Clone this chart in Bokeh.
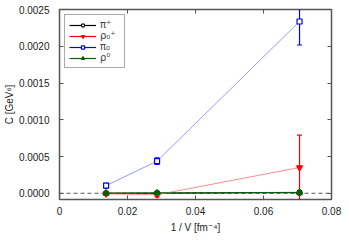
from bokeh.plotting import figure
from bokeh.models import (ColumnDataSource, Span, Legend, LegendItem, LinearAxis,
                          SingleIntervalTicker, NumeralTickFormatter, Range1d,
                          CustomLabelingPolicy)
from bokeh.embed import file_html
from bokeh.resources import INLINE

# ---- data ----
inv_v = [0.0137, 0.0287, 0.0706]
pi_plus = [0.0, 0.000002, 0.000008]
pi_plus_err = [0.000005, 0.000006, 0.00001]
rho0_plus = [-0.000008, -0.00002, 0.00035]
rho0_plus_err = [0.00002, 0.00003, 0.00044]
pi0 = [0.000104, 0.000437, 0.002337]
pi0_err = [0.00003, 0.000045, 0.00032]
rho0 = [0.000002, 0.000004, 0.000012]
rho0_err = [0.000005, 0.000008, 0.00001]

series = [
    # label, values, errors, marker, bar colour, line colour, fill
    ("π⁺", pi_plus, pi_plus_err, "circle", "#000000", "#000000", "white"),
    ("ρ₀⁺", rho0_plus, rho0_plus_err, "inverted_triangle", "#ff0000", "#ff8c8c", "#ff0000"),
    ("π₀", pi0, pi0_err, "square", "#0000ff", "#9a9aff", "white"),
    ("ρ⁰", rho0, rho0_err, "triangle", "#006400", "#006400", "#006400"),
]

FONT = "'Liberation Sans', 'DejaVu Sans'"
GRAY = "#555555"

p = figure(frame_width=272, frame_height=190, output_backend="svg", toolbar_location=None,
           x_range=Range1d(0, 0.08), y_range=Range1d(-0.000085, 0.0025),
           min_border_left=50, min_border_right=8, min_border_top=9, min_border_bottom=30)
p.xgrid.visible = False
p.ygrid.visible = False
p.outline_line_color = GRAY
p.outline_line_width = 1.5
p.background_fill_color = "white"

p.add_layout(Span(location=0, dimension="width", line_color=GRAY, line_width=1,
                  line_dash="4 3", level="underlay"))

items = []
for label, vals, errs, marker, bar_c, line_c, fill_c in series:
    lo = [v - e for v, e in zip(vals, errs)]
    hi = [v + e for v, e in zip(vals, errs)]
    src = ColumnDataSource(dict(x=inv_v, y=vals, lo=lo, hi=hi))
    p.line("x", "y", source=src, line_color=line_c, line_width=1)
    seg = p.segment(x0="x", y0="lo", x1="x", y1="hi", source=src, line_color=bar_c, line_width=1.2)
    p.scatter("x", "lo", source=src, marker="dash", size=5, line_color=bar_c, line_width=1.2)
    p.scatter("x", "hi", source=src, marker="dash", size=5, line_color=bar_c, line_width=1.2)
    msize = 6 if "triangle" in marker else 5
    mk = p.scatter("x", "y", source=src, marker=marker, size=msize, line_color=bar_c,
                   fill_color=fill_c, line_width=1.2)
    items.append(LegendItem(label=label, renderers=[seg, mk]))

# axes
for ax in (p.xaxis[0], p.yaxis[0]):
    ax.axis_line_color = None
    ax.major_tick_in = 4
    ax.major_tick_out = 0
    ax.major_tick_line_color = GRAY
    ax.minor_tick_line_color = None
    ax.major_label_text_font = FONT
    ax.major_label_text_font_size = "10px"
    ax.major_label_text_color = "#222222"
    ax.major_label_text_line_height = 1.0
    ax.axis_label_text_font = FONT
    ax.axis_label_text_font_size = "10px"
    ax.axis_label_text_font_style = "normal"
    ax.axis_label_text_color = "#222222"
    ax.axis_label_text_line_height = 1.0

p.xaxis.ticker = SingleIntervalTicker(interval=0.02)
p.xaxis.formatter = NumeralTickFormatter(format="0.00")
p.xaxis.major_label_overrides = {0: "0"}
p.xaxis.axis_label = "1 / V [fm⁻⁴]"
p.xaxis.major_label_standoff = 3
p.xaxis.axis_label_standoff = 4

p.yaxis.ticker = SingleIntervalTicker(interval=0.0005)
p.yaxis.formatter = NumeralTickFormatter(format="0.0000")
p.yaxis.axis_label = "C [GeV⁶]"
p.yaxis.major_label_standoff = 6
p.yaxis.axis_label_standoff = 1

# mirrored ticks (ticks only, no labels drawn)
hide_all = CustomLabelingPolicy(code="""
try { for (const i of Array.from(indices)) { indices.unset(i) } } catch (e) {}
return indices
""")
for place, interval in (("right", 0.0005), ("above", 0.02)):
    ax = LinearAxis(ticker=SingleIntervalTicker(interval=interval))
    ax.axis_line_color = None
    ax.major_tick_in = 4
    ax.major_tick_out = 0
    ax.major_tick_line_color = GRAY
    ax.minor_tick_line_color = None
    ax.major_label_text_font_size = "1px"
    ax.major_label_standoff = 0
    ax.major_label_policy = hide_all
    p.add_layout(ax, place)

legend = Legend(items=items, location="top_left", margin=5, padding=4, spacing=-1,
                glyph_width=27, glyph_height=8, label_height=8, label_standoff=4,
                label_text_font="DejaVu Sans", label_text_font_size="10px",
                label_text_line_height=0.9,
                border_line_color=GRAY, border_line_width=1,
                background_fill_color="white", background_fill_alpha=1)
p.add_layout(legend)

open("out.html", "w").write(file_html(p, INLINE))
